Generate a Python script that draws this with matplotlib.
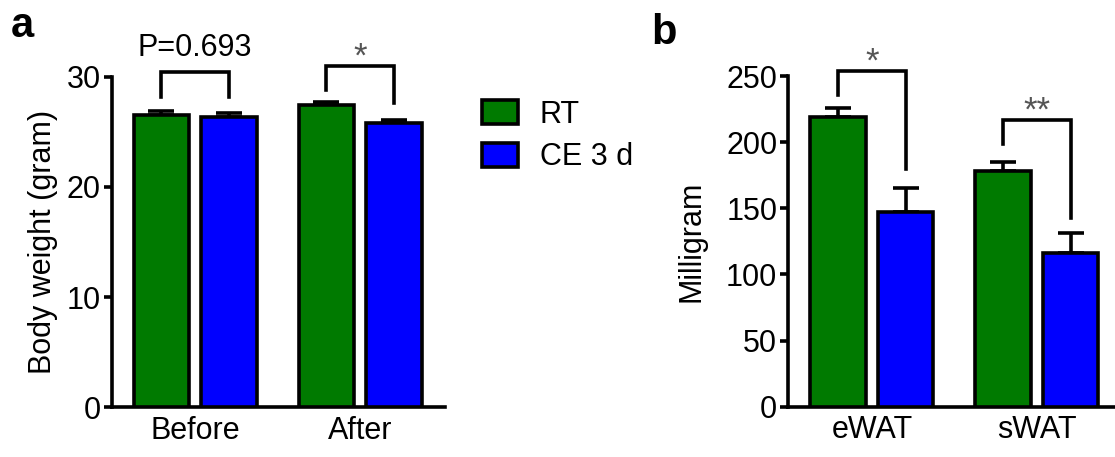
import matplotlib
matplotlib.use("Agg")
import matplotlib.pyplot as plt
from matplotlib.patches import Patch
import numpy as np

plt.rcParams['font.family'] = ['Liberation Sans', 'DejaVu Sans']

# ---- data ----
series = ["RT", "CE 3 d"]
colors = ["#007a00", "#0000ff"]

a_groups = ["Before", "After"]
a_rt = [26.5, 27.4]
a_rt_err = [0.4, 0.3]
a_ce = [26.3, 25.8]
a_ce_err = [0.4, 0.3]
a_yticks = [0, 10, 20, 30]

b_groups = ["eWAT", "sWAT"]
b_rt = [219, 178.5]
b_rt_err = [6.5, 6.5]
b_ce = [147.5, 116]
b_ce_err = [18, 15]
b_yticks = [0, 50, 100, 150, 200, 250]

# significance brackets: (group, top, left leg bottom, right leg bottom, label)
a_sig = [(0, 30.45, 28.2, 28.2, "P=0.693"), (1, 31.0, 28.8, 27.6, "*")]
b_sig = [(0, 254, 236, 179.5, "*"), (1, 216.5, 199, 142.5, "**")]

LW = 2.6
FS = 22
off = 0.205
bw = 0.335

fig = plt.figure(figsize=(11.15, 4.57), dpi=100)

def panel(rect, groups, rt, rte, ce, cee, yticks, ylim, xlim, ylabel, lpad, sig, lab, labpos):
    ax = fig.add_axes(rect)
    x = np.arange(len(groups))
    for xs, vals, errs, c in [(x - off, rt, rte, colors[0]), (x + off, ce, cee, colors[1])]:
        ax.bar(xs, vals, width=bw, color=c, edgecolor="black", linewidth=LW, zorder=3)
        ax.errorbar(xs, vals, yerr=[np.zeros(len(vals)), errs], fmt="none",
                    ecolor="black", elinewidth=LW, capsize=9.5, capthick=LW, zorder=2)
    ax.set_xlim(*xlim)
    ax.set_ylim(*ylim)
    ax.set_yticks(yticks)
    ax.set_xticks(x)
    ax.set_xticklabels(groups, fontsize=FS)
    ax.tick_params(axis="y", labelsize=FS, width=LW, length=6, direction="out", pad=2)
    ax.tick_params(axis="x", length=0, pad=6)
    for s in ["top", "right"]:
        ax.spines[s].set_visible(False)
    for s in ["left", "bottom"]:
        ax.spines[s].set_linewidth(LW)
    ax.set_ylabel(ylabel, fontsize=FS, labelpad=lpad)
    for g, top, l1, l2, txt in sig:
        xl, xr = g - off, g + off
        ax.plot([xl, xl, xr, xr], [l1, top, top, l2], color="black", lw=LW,
                clip_on=False, solid_joinstyle="miter", zorder=4)
        if txt.startswith("*"):
            ax.annotate(txt, xy=(g, top), xytext=(0, -0.5), textcoords="offset points",
                        ha="center", va="baseline", fontsize=25, color="#555555",
                        annotation_clip=False)
        else:
            ax.annotate(txt, xy=(g, top), xytext=(0, 6), textcoords="offset points",
                        ha="center", va="bottom", fontsize=FS, color="black",
                        annotation_clip=False)
    fig.text(labpos[0], labpos[1], lab, fontsize=30, fontweight="bold", ha="left", va="baseline")
    return ax

axa = panel([0.1002, 0.1088, 0.299, 0.7234], a_groups, a_rt, a_rt_err, a_ce, a_ce_err,
            a_yticks, (0, 30), (-0.506, 1.514), "Body weight (gram)", 6, a_sig, "a", (0.010, 0.919))
axb = panel([0.707, 0.110, 0.293, 0.7236], b_groups, b_rt, b_rt_err, b_ce, b_ce_err,
            b_yticks, (0, 250), (-0.507, 1.473), "Milligram", 14, b_sig, "b", (0.584, 0.904))

handles = [Patch(facecolor=colors[i], edgecolor="black", linewidth=LW, label=series[i])
           for i in range(2)]
fig.legend(handles=handles, loc="upper left", bbox_to_anchor=(0.432, 0.782),
           frameon=False, fontsize=FS, handlelength=1.2, handleheight=0.8,
           handletextpad=0.7, labelspacing=0.42, borderpad=0, borderaxespad=0)

fig.savefig("out.png", dpi=100)
